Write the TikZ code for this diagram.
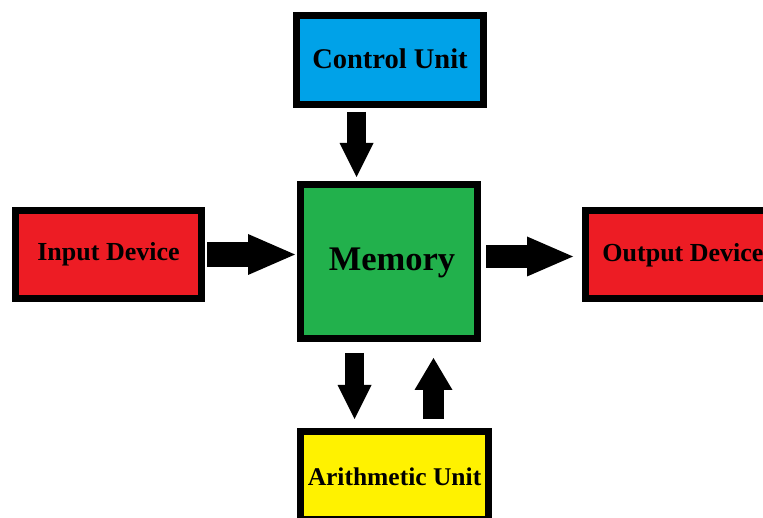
\documentclass[tikz,border=0pt]{standalone}
\usepackage{fontspec}
\setmainfont{Liberation Serif}
\usetikzlibrary{arrows.meta,calc}
\definecolor{cuBlue}{HTML}{00A2E8}
\definecolor{memGreen}{HTML}{22B14C}
\definecolor{ioRed}{HTML}{ED1C24}
\definecolor{aluYellow}{HTML}{FFF200}
% text whose baseline sits #1 below the centre of its box
\newcommand{\unittext}[2]{\raisebox{-#1}[0pt][0pt]{#2}}
\begin{document}
\begin{tikzpicture}[x=1pt,y=-1pt,
  unitbox/.style={draw=black,line width=7pt,inner sep=0pt},
  lbl/.style={font=\bfseries\fontsize{#1}{#1}\selectfont},
  % block arrow: shaft width, head width, head length
  blockarrow/.style n args={3}{draw=black,line width=#1,
    -{Triangle[width=#2,length=#3,line width=0pt]}}]
\useasboundingbox (0,0) rectangle (763,518);
\fill[white] (0,0) rectangle (763,518);

% units
\node[unitbox,fill=cuBlue,minimum width=187pt,minimum height=89pt,lbl=28.5] (ctl) at (390,60) {\unittext{8.5pt}{Control Unit}};
\node[unitbox,fill=memGreen,minimum width=177pt,minimum height=154pt,lbl=34.5] (mem) at (389,261.5) {\unittext{9.5pt}{\hspace{6pt}Memory}};
\node[unitbox,fill=ioRed,minimum width=186pt,minimum height=88pt,lbl=26] (inp) at (108.5,254.5) {\unittext{6pt}{Input Device}};
\node[unitbox,fill=ioRed,minimum width=195pt,minimum height=88pt,lbl=26] (out) at (683,254.5) {\unittext{7.5pt}{Output Device}};
\node[unitbox,fill=aluYellow,minimum width=188pt,minimum height=88pt,lbl=25.5] (ari) at (394.5,475.5) {\unittext{9.5pt}{Arithmetic Unit}};

% data flow
\draw[blockarrow={19pt}{34pt}{34pt}] ($(ctl.south)+(-33.5,4)$) -- ($(mem.north)+(-32.5,-4)$);
\draw[blockarrow={25pt}{41pt}{47pt}] ($(inp.east)+(2,0)$) -- ($(mem.west)+(-2,-7)$);
\draw[blockarrow={23pt}{40pt}{46pt}] ($(mem.east)+(5,-5)$) -- ($(out.west)+(-9,2)$);
\draw[blockarrow={19pt}{34pt}{34pt}] ($(mem.south)+(-34.5,11)$) -- ($(ari.north)+(-40,-9)$);
\draw[blockarrow={21pt}{38pt}{32pt}] ($(ari.north)+(39,-9)$) -- ($(mem.south)+(44.5,16)$);
\end{tikzpicture}
\end{document}
